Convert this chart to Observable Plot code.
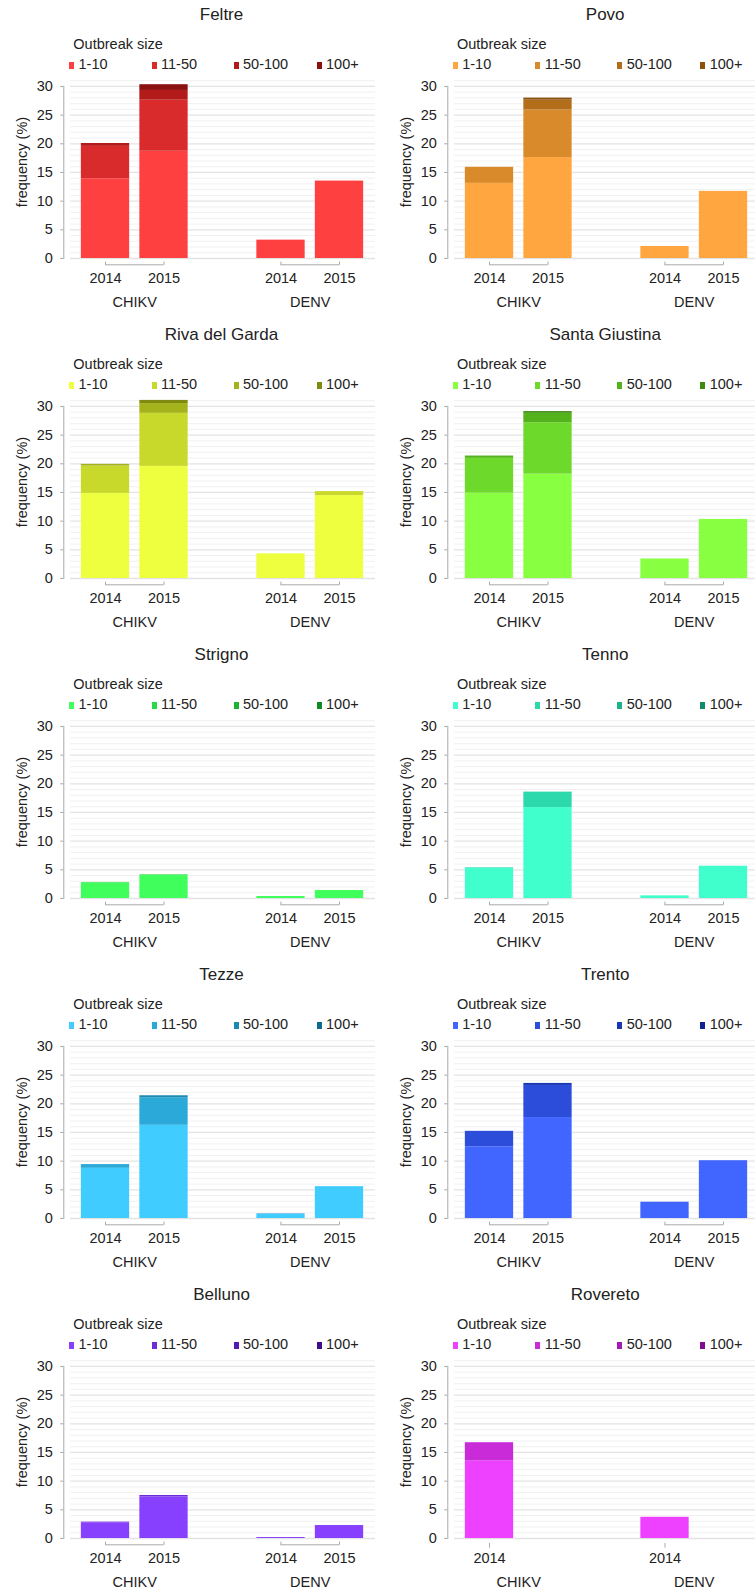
<!DOCTYPE html>
<html>
<head>
<meta charset="utf-8">
<script src="https://cdn.jsdelivr.net/npm/d3@7"></script>
<script src="https://cdn.jsdelivr.net/npm/@observablehq/plot@0.6"></script>
<style>
  html, body { margin: 0; padding: 0; background: #fff; }
  body { width: 755px; height: 1589px; overflow: hidden; position: relative;
         font-family: "Liberation Sans", Arial, sans-serif; color: #222; }
  .abs { position: absolute; white-space: nowrap; line-height: 1; }
  .title { font-size: 17px; text-align: center; width: 200px; }
  .ltitle { font-size: 14.5px; }
  .litem { font-size: 14.5px; }
  .sw { position: absolute; width: 5px; height: 7px; }
  .ylab { font-size: 14.5px; transform: translate(-50%, -50%) rotate(-90deg); }
  svg { position: absolute; overflow: visible; }
</style>
</head>
<body>
<script>
// ---- data ----
const siteNames = ["Feltre", "Povo", "Riva del Garda", "Santa Giustina", "Strigno",
                   "Tenno", "Tezze", "Trento", "Belluno", "Rovereto"];
const sizeClasses = ["1-10", "11-50", "50-100", "100+"];
const viruses = ["CHIKV", "DENV"];
const years = ["2014", "2015"];
// bars in order: CHIKV 2014, CHIKV 2015, DENV 2014, DENV 2015 ; each = stacked values by size class
const feltre        = [[13.9, 5.65, 0.5, 0], [18.7, 8.9, 1.7, 1.0], [3.2, 0, 0, 0], [13.5, 0, 0, 0]];
const povo          = [[13.1, 2.8, 0, 0], [17.6, 8.3, 1.7, 0.37], [2.1, 0, 0, 0], [11.7, 0, 0, 0]];
const rivaDelGarda  = [[14.85, 4.75, 0.3, 0], [19.55, 9.25, 1.7, 0.55], [4.3, 0, 0, 0], [14.45, 0.7, 0, 0]];
const santaGiustina = [[14.9, 6.05, 0.4, 0], [18.2, 8.95, 1.65, 0.3], [3.4, 0, 0, 0], [10.3, 0, 0, 0]];
const strigno       = [[2.7, 0.1, 0, 0], [4.0, 0.12, 0, 0], [0.35, 0, 0, 0], [1.39, 0, 0, 0]];
const tenno         = [[5.25, 0.1, 0, 0], [15.85, 2.7, 0, 0], [0.46, 0, 0, 0], [5.63, 0, 0, 0]];
const tezze         = [[8.75, 0.65, 0, 0], [16.25, 4.75, 0.4, 0], [0.7, 0.1, 0, 0], [5.55, 0, 0, 0]];
const trento        = [[12.5, 2.7, 0, 0], [17.6, 5.6, 0.35, 0], [2.84, 0, 0, 0], [10.08, 0, 0, 0]];
const belluno       = [[2.75, 0.1, 0, 0], [7.25, 0.25, 0, 0], [0.17, 0, 0, 0], [2.26, 0, 0, 0]];
const rovereto      = [[13.5, 3.2, 0, 0], null, [3.7, 0, 0, 0], null];
const siteValues = [feltre, povo, rivaDelGarda, santaGiustina, strigno, tenno, tezze, trento, belluno, rovereto];

const feltreColors   = ["#ff4040", "#d92b2b", "#b31b1b", "#8b1010"];
const povoColors     = ["#ffa640", "#d98a2b", "#b36e1b", "#8b5210"];
const rivaColors     = ["#eeff40", "#c9d92b", "#a4b31b", "#7f8b10"];
const giustinaColors = ["#88ff40", "#6dd92b", "#54b31b", "#3d8b10"];
const strignoColors  = ["#40ff5c", "#2bd946", "#1bb332", "#108b23"];
const tennoColors    = ["#40ffcc", "#2bd9ad", "#1bb38c", "#108b6b"];
const tezzeColors    = ["#40ccff", "#2baad9", "#1b8ab3", "#106a8b"];
const trentoColors   = ["#4066ff", "#2b4dd9", "#1b36b3", "#10238b"];
const bellunoColors  = ["#8840ff", "#6d2bd9", "#541bb3", "#3d108b"];
const roveretoColors = ["#ee40ff", "#c92bd9", "#a41bb3", "#7f108b"];
const siteColors = [feltreColors, povoColors, rivaColors, giustinaColors, strignoColors,
                    tennoColors, tezzeColors, trentoColors, bellunoColors, roveretoColors];

const yTicks = [0, 5, 10, 15, 20, 25, 30];
const yMax = 31;

// ---- layout ----
const FONT = '"Liberation Sans", Arial, sans-serif';
const COLW = 383.7, ROWH = 320;
const barKeys = viruses.flatMap(v => years.map(y => [v, y]));

function addDiv(cls, text, left, top, extra) {
  const d = document.createElement("div");
  d.className = cls;
  d.textContent = text;
  d.style.left = left + "px";
  d.style.top = top + "px";
  if (extra) Object.assign(d.style, extra);
  document.body.appendChild(d);
  return d;
}

siteNames.forEach((name, i) => {
  const L = (i % 2) * COLW, T = Math.floor(i / 2) * ROWH;
  const vals = siteValues[i], colors = siteColors[i];

  addDiv("abs title", name, L + 121.5, T + 6);
  addDiv("abs ltitle", "Outbreak size", L + 73.3, T + 36.8);
  const legX = [69, 151.5, 233.5, 316.5];
  sizeClasses.forEach((s, k) => {
    const sw = document.createElement("div");
    sw.className = "sw";
    sw.style.left = (L + legX[k]) + "px";
    sw.style.top = (T + 61.5) + "px";
    sw.style.background = colors[k];
    document.body.appendChild(sw);
    addDiv("abs litem", s, L + legX[k] + 9.5, T + 57.2);
  });
  addDiv("abs ylab", "frequency (%)", L + 21.9, T + 162);

  // rows
  const rows = [];
  const present = [];
  barKeys.forEach(([v, y], b) => {
    const s = vals[b];
    if (!s) return;
    const slot = viruses.indexOf(v) * (years.length + 1) + years.indexOf(y);
    present.push({virus: v, year: y, slot});
    s.forEach((value, k) => {
      if (value > 0) rows.push({slot, slotEnd: slot + 1, size: sizeClasses[k], value});
    });
  });
  const tickCenters = present.map(d => d.slot + 0.5);
  const tickText = new Map(present.map(d => [d.slot + 0.5, d.year]));
  const groups = viruses.map((v, vi) => {
    const ps = present.filter(d => d.virus === v);
    return {
      virus: v,
      center: vi * (years.length + 1) + years.length / 2,
      a: d3.min(ps, d => d.slot) + 0.5,
      b: d3.max(ps, d => d.slot) + 0.5
    };
  });
  const groupText = new Map(groups.map(g => [g.center, g.virus]));
  const brackets = groups.filter(g => g.b > g.a);
  const bracketEnds = brackets.flatMap(g => [g.a, g.b]);
  const singles = groups.filter(g => g.b === g.a).map(g => g.a);

  const minor = d3.range(0, yMax + 1).filter(v => v % 5 !== 0);
  const major = yTicks;

  const chart = Plot.plot({
    width: 377,
    height: 245,
    marginTop: 5.2,
    marginBottom: 62,
    marginLeft: 63.3,
    marginRight: 2,
    x: {domain: [0, viruses.length * (years.length + 1) - 1], insetLeft: 12.45, insetRight: 6.75},
    y: {domain: [0, yMax]},
    color: {domain: sizeClasses, range: colors},
    style: {fontFamily: FONT, fontSize: "14.5px", color: "#222", background: "transparent", overflow: "visible"},
    marks: [
      Plot.ruleY(minor, {stroke: "#f1f1f1", strokeWidth: 1, insetLeft: 6.7}),
      Plot.ruleY(major, {stroke: "#e3e3e3", strokeWidth: 1.3, insetLeft: 6.7}),
      Plot.rectY(rows, {x1: "slot", x2: "slotEnd", y: "value", fill: "size",
                        insetLeft: 5.1, insetRight: 5.1}),
      Plot.frame({anchor: "left", stroke: "#a8a8a8", insetTop: 5.7}),
      Plot.axisY({ticks: major, tickSize: 3, tickPadding: 8, stroke: "#a8a8a8", fill: "#222", label: null, fontSize: 14.5}),
      Plot.axisX({ticks: tickCenters, tickFormat: d => tickText.get(d), tickSize: 0, tickPadding: 14, label: null, fill: "#222", fontSize: 14.5}),
      Plot.axisX({ticks: groups.map(g => g.center), tickFormat: d => groupText.get(d), tickSize: 0, tickPadding: 38, label: null, fill: "#222", fontSize: 14.5}),
      Plot.ruleY(brackets, {x1: "a", x2: "b", y: 0, dy: 6.3, stroke: "#aaaaaa"}),
      Plot.ruleX(bracketEnds, {x: d => d, y1: 0, y2: 0, insetTop: 3.6, insetBottom: -6.8, stroke: "#aaaaaa"}),
      Plot.ruleX(singles, {x: d => d, y1: 0, y2: 0, insetTop: 5, insetBottom: -9.7, stroke: "#aaaaaa"})
    ]
  });
  chart.style.left = L + "px";
  chart.style.top = (T + 75) + "px";
  document.body.appendChild(chart);
});
</script>
</body>
</html>
